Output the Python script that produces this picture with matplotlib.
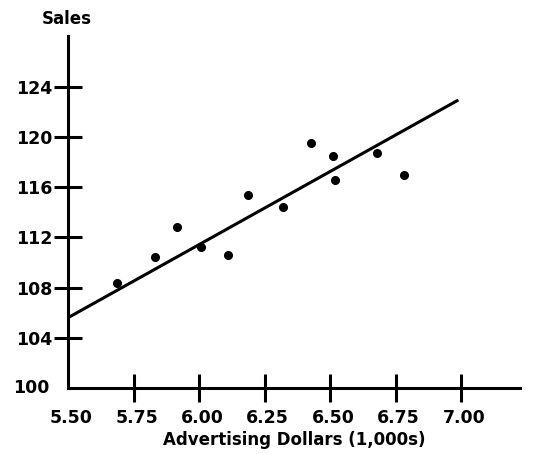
import matplotlib
matplotlib.use("Agg")
import matplotlib.pyplot as plt

# scatter data
adv = [5.686, 5.832, 5.915, 6.008, 6.109, 6.186, 6.322, 6.427, 6.513, 6.519, 6.681, 6.782]
sales = [108.4, 110.4, 112.85, 111.2, 110.6, 115.4, 114.45, 119.55, 118.5, 116.6, 118.7, 117.0]

# fitted line end points
line_x = [5.50, 6.99]
line_y = [105.6, 122.95]

xticks = [5.50, 5.75, 6.00, 6.25, 6.50, 6.75, 7.00]
yticks = [100, 104, 108, 112, 116, 120, 124]

fig = plt.figure(figsize=(5.37, 4.54), dpi=100)
ax = fig.add_axes([68 / 537, 1 - 388 / 454, (520 - 68) / 537, (388 - 36) / 454])

ax.plot(line_x, line_y, color="black", lw=2.2, solid_capstyle="butt")
ax.plot(adv, sales, "o", color="black", ms=5.5)

ax.set_xlim(5.5, 5.5 + (520 - 68) / 262)
ax.set_ylim(100, 100 + (388 - 36) / 12.55)

for s in ["top", "right"]:
    ax.spines[s].set_visible(False)
for s in ["left", "bottom"]:
    ax.spines[s].set_linewidth(2.2)

ax.set_xticks(xticks[1:])
ax.set_yticks(yticks[1:])
ax.tick_params(direction="inout", length=20, width=2.2, labelsize=12.5, pad=1)
ax.tick_params(axis="x", labelbottom=False)
for lab in ax.get_yticklabels():
    lab.set_fontweight("bold")

# x tick labels, including 5.50 at the corner
for v in xticks:
    ax.text(v + 0.012, -0.06, "{:.2f}".format(v), transform=ax.get_xaxis_transform(),
            ha="center", va="top", fontsize=12.5, fontweight="bold")
ax.text(-0.04, 0, "100", transform=ax.transAxes, ha="right", va="center",
        fontsize=12.5, fontweight="bold")

ax.set_xlabel("Advertising Dollars (1,000s)", fontsize=12, fontweight="bold", labelpad=21)
fig.text(67 / 537, 1 - 19 / 454, "Sales", ha="center", va="center", fontsize=12, fontweight="bold")

fig.savefig("out.png", dpi=100)
